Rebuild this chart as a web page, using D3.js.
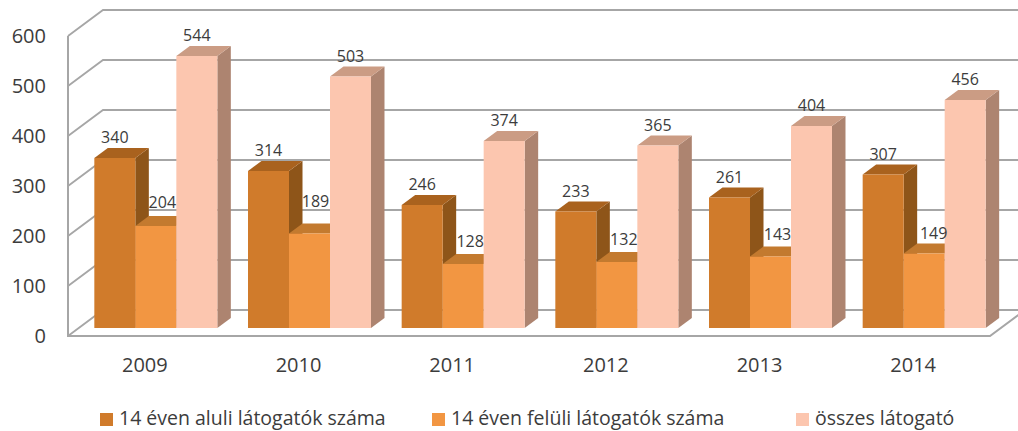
<!DOCTYPE html>
<html>
<head>
<meta charset="utf-8">
<script src="https://cdn.jsdelivr.net/npm/d3@7"></script>
<style>
  html, body { margin: 0; padding: 0; background: #fff; }
  svg { display: block; }
  text { font-family: "Open Sans", sans-serif; fill: #3c3c3c; }
</style>
</head>
<body>
<div id="d3-container"></div>
<script>
const years = ['2009', '2010', '2011', '2012', '2013', '2014'];
const seriesNames = ['14 éven aluli látogatók száma', '14 éven felüli látogatók száma', 'összes látogató'];
const under14 = [340, 314, 246, 233, 261, 307];
const over14 = [204, 189, 128, 132, 143, 149];
const total = [544, 503, 374, 365, 404, 456];
const yTicks = [0, 100, 200, 300, 400, 500, 600];

const width = 1018;
const height = 431;
const plot = { left: 68, right: 990, top: 36, bottom: 336 };
const wall = { dx: 35, dy: -26 };     // front edge to back wall
const barShift = { dx: 11, dy: -8 }; // front of bars sits a bit inside the floor
const barDepth = { dx: 13.5, dy: -10 };

const colors = [
  { front: '#d07b2b', top: '#a9621e', side: '#8e5519' },
  { front: '#f29642', top: '#c37a2f', side: '#a8682a' },
  { front: '#fcc6af', top: '#cb9c84', side: '#ad8470' }
];
// the labels of the middle bars were moved by hand in the original
const labelNudge = {
  '0-1': [6.5, -3],
  '1-1': [6, -12],
  '2-1': [7, -2],
  '3-1': [7, -2],
  '4-1': [7, -2],
  '5-1': [9.5, 0]
};

const svg = d3.select('#d3-container')
  .append('svg')
  .attr('width', width)
  .attr('height', height)
  .attr('viewBox', [0, 0, width, height]);

const x = d3.scaleBand()
  .domain(years)
  .range([plot.left, plot.right]);

const inner = d3.scaleBand()
  .domain(d3.range(seriesNames.length))
  .range([0, x.bandwidth()])
  .paddingInner(0)
  .paddingOuter(0.374);

const y = d3.scaleLinear()
  .domain([0, 600])
  .range([plot.bottom, plot.top]);

// grid: side wall slant plus back wall line
svg.append('g')
  .attr('fill', 'none')
  .attr('stroke', '#a6a6a6')
  .attr('stroke-width', 1.8)
  .selectAll('path')
  .data(yTicks)
  .join('path')
    .attr('d', d => `M${plot.left},${y(d)}L${plot.left + wall.dx},${y(d) + wall.dy}L${plot.right + wall.dx},${y(d) + wall.dy}`);

svg.append('path')
  .attr('fill', 'none')
  .attr('stroke', '#a6a6a6')
  .attr('stroke-width', 2)
  .attr('d', `M${plot.left},${y(600)}V${y(0)}H${plot.right}L${plot.right + wall.dx},${y(0) + wall.dy}`);

function yAxis(g) {
  g.attr('transform', `translate(${plot.left},0)`)
    .call(d3.axisLeft(y).tickValues(yTicks).tickSize(0).tickPadding(22))
    .call(g => g.select('.domain').remove());
  g.selectAll('text').attr('font-size', 20);
  g.attr('font-family', null);
}

function xAxis(g) {
  g.attr('transform', `translate(0,${plot.bottom})`)
    .call(d3.axisBottom(x).tickSize(0).tickPadding(22))
    .call(g => g.select('.domain').remove());
  g.selectAll('text').attr('font-size', 20);
  g.attr('font-family', null);
}

svg.append('g').call(yAxis);
svg.append('g').call(xAxis);

const bars = [];
years.forEach((year, yi) => {
  [under14, over14, total].forEach((values, si) => {
    bars.push({
      key: `${yi}-${si}`,
      value: values[yi],
      s: si,
      x0: x(year) + inner(si) + barShift.dx,
      x1: x(year) + inner(si) + barShift.dx + inner.bandwidth(),
      y0: y(0) + barShift.dy,
      y1: y(values[yi]) + barShift.dy
    });
  });
});

const bar = svg.append('g')
  .selectAll('g')
  .data(bars)
  .join('g');

bar.append('path')
  .attr('fill', d => colors[d.s].side)
  .attr('d', d => `M${d.x1},${d.y1}l${barDepth.dx},${barDepth.dy}V${d.y0 + barDepth.dy}l${-barDepth.dx},${-barDepth.dy}Z`);

bar.append('path')
  .attr('fill', d => colors[d.s].top)
  .attr('d', d => `M${d.x0},${d.y1}l${barDepth.dx},${barDepth.dy}H${d.x1 + barDepth.dx}l${-barDepth.dx},${-barDepth.dy}Z`);

bar.append('rect')
  .attr('fill', d => colors[d.s].front)
  .attr('x', d => d.x0)
  .attr('y', d => d.y1)
  .attr('width', inner.bandwidth())
  .attr('height', d => d.y0 - d.y1);

// labels go last so nothing covers them
svg.append('g')
  .attr('font-size', 16)
  .attr('text-anchor', 'middle')
  .selectAll('text')
  .data(bars)
  .join('text')
    .attr('x', d => (d.x0 + d.x1) / 2 + (labelNudge[d.key] ? labelNudge[d.key][0] : 0))
    .attr('y', d => d.y1 + barDepth.dy - 5 + (labelNudge[d.key] ? labelNudge[d.key][1] : 0))
    .text(d => d.value);

// legend
const legendX = [100, 432, 796];
const legend = svg.append('g')
  .selectAll('g')
  .data(seriesNames)
  .join('g')
    .attr('transform', (d, i) => `translate(${legendX[i]},413)`);

legend.append('rect')
  .attr('width', 13)
  .attr('height', 13)
  .attr('fill', (d, i) => colors[i].front);

legend.append('text')
  .attr('x', 19)
  .attr('y', 12)
  .attr('font-size', 19.5)
  .text(d => d);
</script>
</body>
</html>
